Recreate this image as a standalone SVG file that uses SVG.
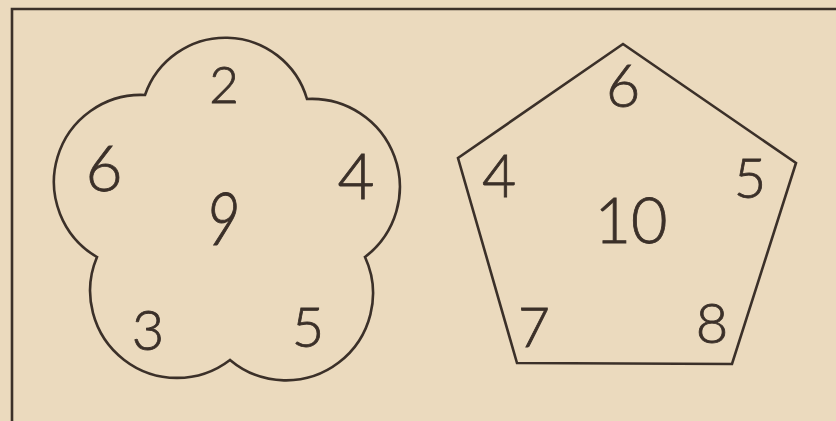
<svg xmlns="http://www.w3.org/2000/svg" width="836" height="421" viewBox="0 0 836 421">
<style>
.ln{fill:none;stroke:#3b3029;stroke-width:2.6;stroke-linejoin:miter}
.d{font-family:Lato,"Liberation Sans",sans-serif;font-weight:300;fill:#3b3029;text-anchor:middle;stroke:#3b3029;stroke-width:0.8}
</style>
<rect width="836" height="421" fill="#ebdabe"/>
<g id="frame"><path class="ln" d="M12,421 V9 H836" stroke-width="2"/></g>
<g id="flower">
<path class="ln" d="M145,95 A85,85 0 0 1 307,99 A88,88 0 0 1 365,257 A87,87 0 0 1 230,360 A87,87 0 0 1 97,257 A87,87 0 0 1 145,95 Z"/>
<text class="d" x="224" y="103" font-size="51">2</text>
<text class="d" x="104" y="191" font-size="64">6</text>
<text class="d" x="356" y="199" font-size="64">4</text>
<text class="d" x="0" y="0" font-size="60" font-style="italic" transform="translate(223,245) scale(1,1.22)">9</text>
<text class="d" x="148" y="350" font-size="56">3</text>
<text class="d" x="308" y="347" font-size="56">5</text>
</g>
<g id="pentagon">
<polygon class="ln" points="623,44 796,163 732,364 517,363 458,158"/>
<text class="d" x="623" y="107" font-size="59">6</text>
<text class="d" x="499" y="197" font-size="59">4</text>
<text class="d" x="750" y="198" font-size="56">5</text>
<text class="d" x="631" y="243" font-size="63">10</text>
<text class="d" x="534" y="347" font-size="55">7</text>
<text class="d" x="712" y="343" font-size="56">8</text>
</g>
</svg>
